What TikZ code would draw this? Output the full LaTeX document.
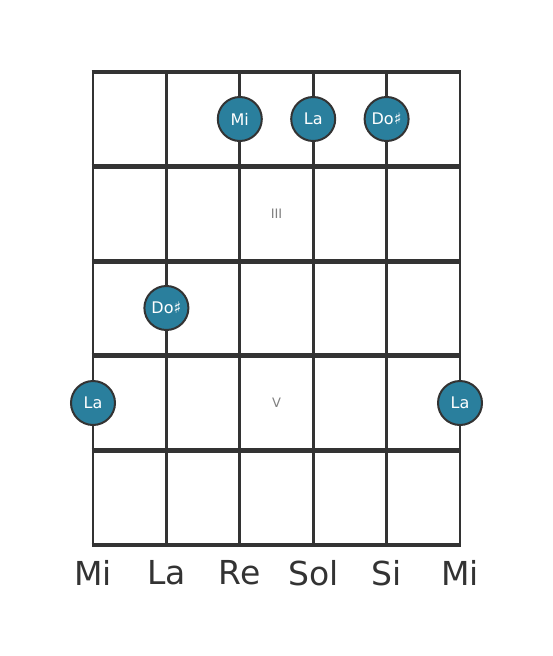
\documentclass[tikz,border=0pt]{standalone}
\usepackage{fontspec}
\setmainfont{DejaVu Sans}
\usepackage{tikz}
\usetikzlibrary{positioning, calc}
\definecolor{dotteal}{HTML}{2A7F9D}
\definecolor{gridgray}{HTML}{333333}
\tikzset{
    fret/.style={draw=gridgray, line width=4.8pt},
    string/.style={draw=gridgray, line width=2.8pt},
    finger/.style={circle, fill=dotteal, draw=gridgray, line width=2pt, minimum size=44pt, inner sep=0pt, text=white, font=\fontsize{16}{16}\selectfont},
    strname/.style={text=gridgray, font=\fontsize{33}{33}\selectfont},
    fretnum/.style={text=gray, font=\fontsize{13}{13}\selectfont},
}
\begin{document}
\begin{tikzpicture}[x=1pt, y=-1pt]
    \useasboundingbox (0, 0) rectangle (553, 656);

    % strings
    \foreach \s [count=\i from 0] in {93, 166.4, 239.8, 313.2, 386.6, 460}
        \coordinate (s\i) at (\s, 0);
    \foreach \i in {0, ..., 5}
        \draw[string] (s\i |- 0, 72) -- (s\i |- 0, 545);
    % frets
    \foreach \f [count=\j from 0] in {72, 166.6, 261.2, 355.8, 450.4, 545}
        \draw[fret] (91.6, \f) -- (461.4, \f);

    \node[fretnum] (f3) at (276.5, 214) {III};
    \node[fretnum] (f5) at (276.5, 403) {V};

    \node[finger] (n1) at (s2 |- 0, 119) {Mi};
    \node[finger] (n2) at (s3 |- 0, 119) {La};
    \node[finger] (n3) at (s4 |- 0, 119) {Do♯};
    \node[finger] (n4) at (s1 |- 0, 308) {Do♯};
    \node[finger] (n5) at (s0 |- 0, 403) {La};
    \node[finger] (n6) at (s5 |- 0, 403) {La};

    \foreach \n [count=\i from 0] in {Mi, La, Re, Sol, Si, Mi}
        \node[strname] (name\i) at (s\i |- 0, 573) {\n};
\end{tikzpicture}
\end{document}
